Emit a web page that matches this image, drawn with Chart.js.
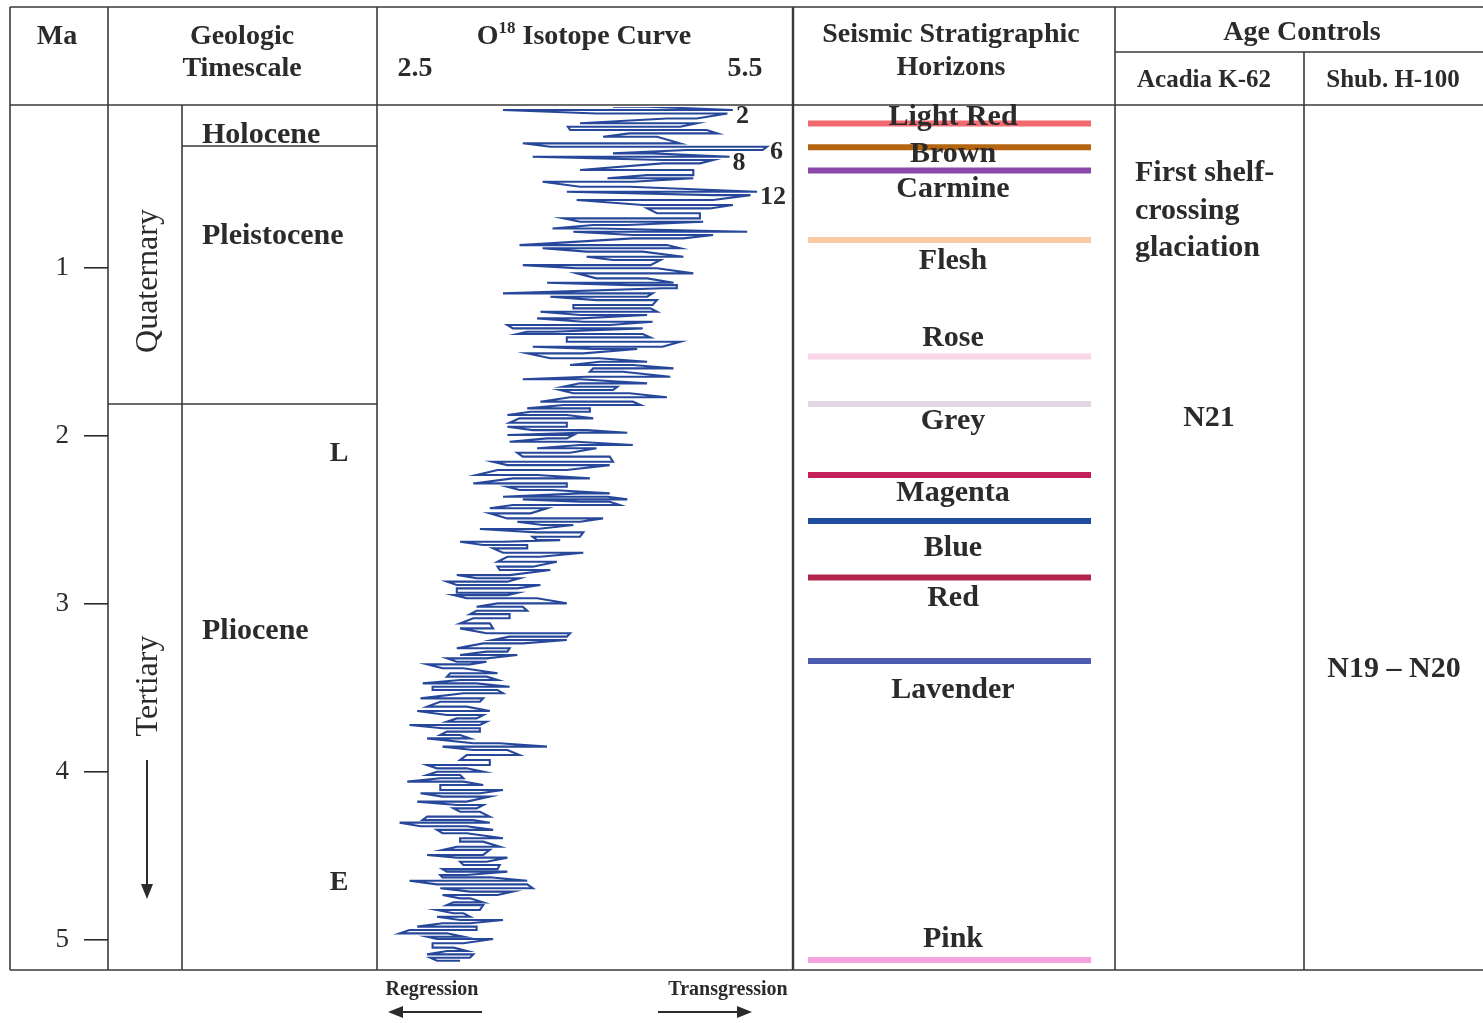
<!DOCTYPE html>
<html>
<head>
<meta charset="utf-8">
<script src="https://cdn.jsdelivr.net/npm/chart.js@4.4.1/dist/chart.umd.min.js"></script>
<style>
  html, body { margin: 0; padding: 0; background: #fff; }
  #wrap { width: 1483px; height: 1023px; }
</style>
</head>
<body>
<div id="wrap"><canvas id="chart" width="1483" height="1023"></canvas></div>
<script>
// ---- data ----
const maTicks = [1, 2, 3, 4, 5];
const isoTicks = [2.5, 5.5];

// O18 curve: each row is one swing of the curve (age in Ma, low and high isotope value)
const isoAge = [0.044,0.064,0.085,0.114,0.143,0.163,0.183,0.203,0.223,0.262,0.282,0.302,0.322,0.342,0.361,0.381,0.421,0.451,0.470,0.490,
  0.520,0.550,0.570,0.599,0.629,0.649,0.678,0.708,0.728,0.748,0.768,0.788,0.807,0.827,0.867,0.886,0.906,0.936,0.956,0.986,
  1.005,1.035,1.065,1.091,1.105,1.124,1.154,1.174,1.194,1.223,1.243,1.263,1.283,1.303,1.323,1.342,1.362,1.382,1.396,1.416,
  1.442,1.471,1.485,1.511,1.540,1.561,1.580,1.600,1.620,1.650,1.665,1.689,1.709,1.729,1.748,1.772,1.798,1.818,1.838,1.858,
  1.877,1.897,1.923,1.947,1.967,1.983,1.996,2.016,2.036,2.056,2.075,2.102,2.125,2.155,2.175,2.204,2.234,2.254,2.284,2.304,
  2.323,2.343,2.363,2.379,2.393,2.412,2.432,2.462,2.492,2.512,2.531,2.555,2.575,2.601,2.621,2.631,2.650,2.670,2.696,2.720,
  2.750,2.779,2.799,2.829,2.848,2.868,2.888,2.908,2.934,2.948,2.967,2.997,3.017,3.041,3.061,3.086,3.116,3.146,3.175,3.195,
  3.215,3.235,3.264,3.284,3.304,3.324,3.344,3.360,3.383,3.413,3.433,3.453,3.473,3.493,3.512,3.532,3.562,3.582,3.611,3.637,
  3.661,3.681,3.701,3.720,3.740,3.760,3.780,3.800,3.829,3.849,3.869,3.899,3.928,3.958,3.978,3.998,4.018,4.037,4.057,4.077,
  4.107,4.126,4.146,4.176,4.196,4.216,4.236,4.265,4.285,4.301,4.322,4.344,4.364,4.394,4.414,4.444,4.463,4.493,4.509,4.533,
  4.553,4.577,4.592,4.612,4.626,4.646,4.668,4.691,4.711,4.731,4.751,4.775,4.791,4.820,4.840,4.860,4.880,4.899,4.919,4.939,
  4.959,4.979,4.993,5.018,5.044,5.064,5.084,5.104,5.122];
const isoLow = [4.30,3.30,4.15,4.79,4.00,3.89,3.91,4.45,4.21,3.48,3.73,4.97,4.30,3.57,4.75,4.75,4.00,4.61,4.25,3.66,
  4.00,3.88,5.21,3.97,4.57,4.61,4.70,3.85,4.00,4.12,3.75,3.94,4.48,4.48,3.45,3.66,4.06,4.06,4.30,3.48,
  3.97,3.97,4.15,3.70,4.45,4.75,3.30,3.73,4.15,3.94,3.94,3.64,4.00,3.61,4.03,3.34,3.39,3.52,3.43,3.88,
  3.88,3.57,4.12,3.52,3.73,4.18,3.91,4.12,4.09,4.06,3.48,4.00,3.85,3.82,3.94,3.91,3.64,3.85,3.52,3.55,
  3.34,3.45,3.36,3.34,3.57,4.00,3.34,3.70,3.36,4.00,3.61,3.43,3.48,3.21,3.34,3.25,3.06,3.39,3.03,3.34,
  3.45,4.00,3.30,3.48,4.00,3.39,3.18,3.18,3.34,3.43,3.66,3.09,3.61,3.57,3.61,2.91,3.12,3.21,3.30,3.34,
  3.25,3.25,3.27,2.88,3.06,2.79,2.88,2.88,2.88,2.85,2.97,3.25,3.06,3.06,3.00,3.03,2.91,2.91,3.15,3.36,
  3.21,3.12,2.88,3.15,2.91,2.79,2.88,2.61,2.75,2.82,2.79,2.91,2.57,2.66,2.66,2.94,2.55,2.73,2.61,2.52,
  2.79,2.88,2.79,2.45,2.75,2.79,2.73,2.61,3.03,2.75,3.03,2.97,2.91,2.61,2.70,2.70,2.61,2.73,2.43,2.73,
  2.73,2.55,2.75,2.52,2.88,2.85,2.91,2.61,2.57,2.36,2.55,2.70,2.75,2.91,2.91,2.88,2.75,2.61,2.88,2.91,
  2.94,2.75,2.79,2.73,2.75,2.45,2.70,2.73,3.00,2.75,2.91,2.85,2.79,2.70,2.85,2.70,2.91,2.75,2.52,2.45,
  2.36,2.61,2.70,2.66,2.66,2.79,2.61,2.64,2.70];
const isoHigh = [4.61,5.39,5.34,5.06,5.06,4.91,5.15,5.25,4.70,4.91,5.70,5.66,4.66,5.36,5.21,5.09,5.03,5.03,5.03,4.48,
  4.45,5.61,5.55,5.21,5.39,5.18,5.09,5.09,5.12,4.43,4.18,5.52,5.21,4.94,4.79,4.91,4.57,4.94,4.73,4.64,
  4.70,5.03,4.61,4.85,4.88,4.88,4.66,4.61,4.70,4.66,4.64,4.70,4.61,4.00,4.66,4.27,4.57,3.75,4.57,4.64,
  4.91,4.75,4.52,4.03,4.18,4.61,4.48,4.85,4.39,4.82,4.00,4.61,4.34,4.30,4.45,4.79,4.48,4.55,4.09,4.09,
  3.88,4.12,3.88,3.88,4.06,4.43,3.94,3.88,3.97,4.48,4.15,3.91,4.27,4.30,4.27,3.88,3.61,4.09,3.88,3.88,
  3.75,4.27,4.25,4.43,4.27,4.36,3.70,3.55,4.21,4.00,3.94,3.61,4.03,4.00,3.82,3.30,3.52,3.52,4.03,3.64,
  3.79,3.57,3.73,3.36,3.45,3.34,3.64,3.43,3.43,3.34,3.61,3.88,3.48,3.52,3.36,3.36,3.18,3.21,3.91,3.88,
  3.88,3.48,3.36,3.34,3.43,3.15,3.15,3.00,2.94,3.25,3.15,3.25,3.06,3.36,3.25,3.30,3.12,3.09,2.97,3.18,
  3.12,3.06,3.15,3.09,3.09,3.09,2.91,3.00,3.27,3.70,3.34,3.45,3.18,3.18,2.97,3.12,2.91,2.94,2.94,3.12,
  3.30,3.09,3.18,2.97,3.12,3.06,3.09,3.18,3.03,3.18,2.97,3.21,2.97,3.30,3.12,3.27,3.18,3.12,3.34,3.15,
  3.27,3.25,3.34,2.97,3.18,3.52,3.52,3.57,3.39,3.25,3.00,3.12,3.12,3.09,2.94,3.00,3.30,3.00,3.06,3.06,
  2.79,2.94,3.21,2.94,2.85,2.97,3.03,3.00,2.91];

// marine isotope stage labels at the curve's peaks
const misLabels = ['2', '6', '8', '12'];
const misAges = [0.064, 0.282, 0.342, 0.550];
const misValues = [5.39, 5.70, 5.36, 5.61];

// seismic stratigraphic horizons
const horizonNames = ['Light Red', 'Brown', 'Carmine', 'Flesh', 'Rose', 'Grey', 'Magenta', 'Blue', 'Red', 'Lavender', 'Pink'];
const horizonAges = [0.144, 0.286, 0.424, 0.837, 1.530, 1.812, 2.234, 2.508, 2.844, 3.340, 5.118];
const horizonColors = ['#f06a70', '#b5650f', '#8c48a8', '#fcc9a0', '#fbd5e8', '#e2d6e2', '#c41f5a', '#1f4c9c', '#b2244c', '#4a5bb0', '#f5a3df'];

// timescale boundaries (Holocene/Pleistocene, Quaternary/Tertiary)
const epochBounds = [0.278, 1.812];

// ---- layout ----
const AREA_L = 108, AREA_R = 1483;
const ISO_L = 415, ISO_R = 745;
const HZ_L = 808, HZ_R = 1091;
const isoPx = (ISO_R - ISO_L) / (isoTicks[1] - isoTicks[0]);
const xMin = isoTicks[0] - (ISO_L - AREA_L) / isoPx;
const xMax = isoTicks[0] + (AREA_R - ISO_L) / isoPx;
const hMin = -(HZ_L - AREA_L) / (HZ_R - HZ_L);
const hMax = (AREA_R - HZ_L) / (HZ_R - HZ_L);
const labelDy = [-8, 5, 17, 19, -20, 15, 16, 25, 19, 27, -23];

const SERIF = '"Liberation Serif", "Times New Roman", serif';
const INK = '#2b2b2b';
const RULE = '#3a3a3a';

// zig-zag of the curve built from the rows
const isoPoints = [];
for (let i = 0; i < isoAge.length; i++) {
  const a = i % 2 === 0 ? isoLow[i] : isoHigh[i];
  const b = i % 2 === 0 ? isoHigh[i] : isoLow[i];
  isoPoints.push({ x: a, y: isoAge[i] }, { x: b, y: isoAge[i] });
}

const datasets = [{
  data: isoPoints,
  xAxisID: 'x',
  showLine: true,
  borderColor: '#27489a',
  borderWidth: 2.1,
  pointRadius: 0,
  tension: 0
}];
for (let i = 0; i < horizonNames.length; i++) {
  datasets.push({
    label: horizonNames[i],
    data: [{ x: 0, y: horizonAges[i] }, { x: 1, y: horizonAges[i] }],
    xAxisID: 'xh',
    showLine: true,
    borderColor: horizonColors[i],
    borderWidth: 6,
    pointRadius: 0
  });
}

function txt(ctx, s, x, y, size, weight, align) {
  ctx.font = `${weight || 'bold'} ${size}px ${SERIF}`;
  ctx.textAlign = align || 'center';
  ctx.textBaseline = 'middle';
  ctx.fillText(s, x, y + 2);
}

const tablePlugin = {
  id: 'table',
  beforeDraw(chart) {
    const ctx = chart.ctx;
    ctx.save();
    ctx.fillStyle = '#fff';
    ctx.fillRect(0, 0, chart.width, chart.height);
    ctx.restore();
  },
  afterDraw(chart) {
    const { ctx } = chart;
    const y = chart.scales.y, x = chart.scales.x;
    const top = 7, head = 105, bot = chart.chartArea.bottom;
    ctx.save();
    ctx.strokeStyle = RULE;
    ctx.lineWidth = 1.6;
    const line = (x1, y1, x2, y2) => { ctx.beginPath(); ctx.moveTo(x1, y1); ctx.lineTo(x2, y2); ctx.stroke(); };

    // grid of the table
    line(10, top, 1483, top);
    line(10, head, 1483, head);
    line(10, bot, 1483, bot);
    line(1115, 52, 1483, 52);
    [10, 108, 377, 1115].forEach(c => line(c, top, c, bot));
    line(182, head, 182, bot);
    line(1304, 52, 1304, bot);
    ctx.lineWidth = 2.4;
    line(793, top, 793, bot);
    ctx.lineWidth = 1.6;
    line(182, y.getPixelForValue(epochBounds[0]), 377, y.getPixelForValue(epochBounds[0]));
    line(108, y.getPixelForValue(epochBounds[1]), 377, y.getPixelForValue(epochBounds[1]));

    ctx.fillStyle = INK;
    // headers
    txt(ctx, 'Ma', 57, 35, 28);
    txt(ctx, 'Geologic', 242, 35, 28);
    txt(ctx, 'Timescale', 242, 67, 28);
    // O18 Isotope Curve with superscript
    ctx.font = `bold 28px ${SERIF}`;
    const wO = ctx.measureText('O').width;
    const wRest = ctx.measureText(' Isotope Curve').width;
    ctx.font = `bold 17px ${SERIF}`;
    const wSup = ctx.measureText('18').width;
    let sx = 584 - (wO + wSup + wRest) / 2;
    txt(ctx, 'O', sx, 35, 28, 'bold', 'left');
    txt(ctx, '18', sx + wO, 27, 17, 'bold', 'left');
    txt(ctx, ' Isotope Curve', sx + wO + wSup, 35, 28, 'bold', 'left');
    txt(ctx, 'Seismic Stratigraphic', 951, 33, 28);
    txt(ctx, 'Horizons', 951, 66, 28);
    txt(ctx, 'Age Controls', 1302, 31, 28);
    txt(ctx, 'Acadia K-62', 1204, 79, 25);
    txt(ctx, 'Shub. H-100', 1393, 79, 25);

    // geologic timescale
    txt(ctx, 'Holocene', 202, 133, 30, 'bold', 'left');
    txt(ctx, 'Pleistocene', 202, 234, 30, 'bold', 'left');
    txt(ctx, 'Pliocene', 202, 629, 30, 'bold', 'left');
    txt(ctx, 'L', 339, 452, 28);
    txt(ctx, 'E', 339, 881, 28);
    ctx.save();
    ctx.translate(147, 281);
    ctx.rotate(-Math.PI / 2);
    txt(ctx, 'Quaternary', 0, 0, 32, 'normal');
    ctx.restore();
    ctx.save();
    ctx.translate(147, 686);
    ctx.rotate(-Math.PI / 2);
    txt(ctx, 'Tertiary', 0, 0, 32, 'normal');
    ctx.restore();
    ctx.lineWidth = 2;
    ctx.strokeStyle = INK;
    line(147, 760, 147, 886);
    ctx.beginPath(); ctx.moveTo(141, 884); ctx.lineTo(153, 884); ctx.lineTo(147, 899); ctx.closePath(); ctx.fill();

    // isotope stage labels
    for (let i = 0; i < misLabels.length; i++) {
      txt(ctx, misLabels[i], x.getPixelForValue(misValues[i]) + 3, y.getPixelForValue(misAges[i]) + 4, 26, 'bold', 'left');
    }

    // horizon names
    for (let i = 0; i < horizonNames.length; i++) {
      txt(ctx, horizonNames[i], 953, y.getPixelForValue(horizonAges[i]) + labelDy[i], 30);
    }

    // age controls
    txt(ctx, 'First shelf-', 1135, 171, 30, 'bold', 'left');
    txt(ctx, 'crossing', 1135, 209, 30, 'bold', 'left');
    txt(ctx, 'glaciation', 1135, 246, 30, 'bold', 'left');
    txt(ctx, 'N21', 1209, 416, 30);
    txt(ctx, 'N19 \u2013 N20', 1394, 667, 30);

    // regression / transgression
    txt(ctx, 'Regression', 432, 988, 20);
    txt(ctx, 'Transgression', 728, 988, 20);
    ctx.lineWidth = 2;
    line(398, 1012, 482, 1012);
    ctx.beginPath(); ctx.moveTo(388, 1012); ctx.lineTo(403, 1006); ctx.lineTo(403, 1018); ctx.closePath(); ctx.fill();
    line(658, 1012, 742, 1012);
    ctx.beginPath(); ctx.moveTo(752, 1012); ctx.lineTo(737, 1006); ctx.lineTo(737, 1018); ctx.closePath(); ctx.fill();
    ctx.restore();
  }
};

new Chart(document.getElementById('chart'), {
  type: 'scatter',
  data: { datasets: datasets },
  options: {
    responsive: false,
    devicePixelRatio: 1,
    animation: false,
    layout: { padding: { left: 10, top: 0, right: 0, bottom: 53 } },
    plugins: { legend: { display: false }, tooltip: { enabled: false } },
    scales: {
      y: {
        type: 'linear',
        reverse: true,
        min: 0.046,
        max: 5.177,
        position: 'left',
        afterFit: s => { s.width = 98; },
        afterBuildTicks: s => { s.ticks = maTicks.map(v => ({ value: v })); },
        ticks: { font: { family: SERIF, size: 27 }, color: INK, padding: 15 },
        grid: { drawOnChartArea: false, drawTicks: true, tickLength: 24, color: INK, lineWidth: 1.6 },
        border: { display: false }
      },
      x: {
        type: 'linear',
        position: 'top',
        min: xMin,
        max: xMax,
        afterFit: s => { s.height = 107; },
        afterBuildTicks: s => { s.ticks = isoTicks.map(v => ({ value: v })); },
        ticks: { font: { family: SERIF, size: 28, weight: 'bold' }, color: INK, padding: 21, maxRotation: 0, autoSkip: false,
                 callback: v => v.toFixed(1) },
        grid: { display: false, drawTicks: false },
        border: { display: false }
      },
      xh: {
        type: 'linear',
        display: false,
        min: hMin,
        max: hMax
      }
    }
  },
  plugins: [tablePlugin]
});
</script>
</body>
</html>
